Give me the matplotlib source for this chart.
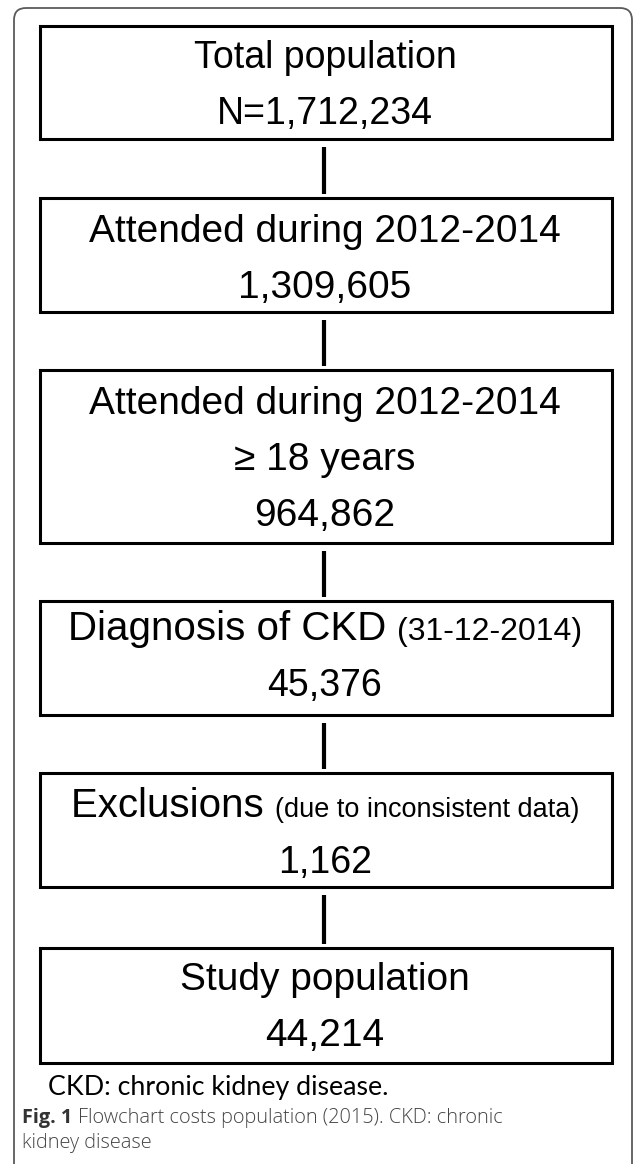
import matplotlib.pyplot as plt
from matplotlib.patches import Rectangle, FancyBboxPatch
from matplotlib.offsetbox import TextArea, HPacker, AnnotationBbox

# Contenido del diagrama de flujo
step_titles = ['Total population', 'Attended during 2012-2014',
               'Attended during 2012-2014', 'Diagnosis of CKD',
               'Exclusions', 'Study population']
step_notes = ['', '', '', '(31-12-2014)', '(due to inconsistent data)', '']
step_extra = ['', '', '\u2265 18 years', '', '', '']
step_counts = ['N=1,712,234', '1,309,605', '964,862', '45,376', '1,162', '44,214']

footnote = 'CKD: chronic kidney disease.'
caption_bold = 'Fig. 1'
caption_text = 'Flowchart costs population (2015). CKD: chronic'
caption_text2 = 'kidney disease'

# Geometría (pixeles)
W, H = 633, 1164
box_left, box_right = 40, 612
box_tops = [26, 198, 370, 601, 773, 948]
box_bottoms = [139, 312, 543, 715, 887, 1063]
first_base = [42, 44, 44, 39, 44, 42]
title_size = [27, 28, 28, 29, 29, 28]
note_size = [0, 0, 0, 23, 19.5, 0]
count_size = [27, 28, 28, 27, 27, 28]
cx = 325

plt.rcParams['font.family'] = ['Liberation Sans', 'DejaVu Sans']

fig = plt.figure(figsize=(W / 100, H / 100), dpi=100)
ax = fig.add_axes([0, 0, 1, 1])
ax.set_xlim(0, W)
ax.set_ylim(H, 0)
ax.axis('off')

# Marco exterior redondeado
frame = FancyBboxPatch((14, 8), 618, 1170, boxstyle='round,pad=0,rounding_size=12',
                       fill=False, edgecolor='#5a5a5a', linewidth=1.3)
ax.add_patch(frame)

for i in range(len(step_titles)):
    top, bot = box_tops[i], box_bottoms[i]
    ax.add_patch(Rectangle((box_left, top), box_right - box_left, bot - top,
                           fill=False, edgecolor='black', linewidth=2.2))
    lines = [(step_titles[i], step_notes[i])]
    if step_extra[i]:
        lines.append((step_extra[i], ''))
    lines.append((step_counts[i], ''))
    base0 = top + first_base[i]
    for j, (txt, note) in enumerate(lines):
        y = base0 + 56 * j
        size = title_size[i] if j == 0 else count_size[i]
        if note:
            parts = [TextArea(txt + ' ', textprops=dict(fontsize=size, color='black')),
                     TextArea(note, textprops=dict(fontsize=note_size[i], color='black'))]
            pack = HPacker(children=parts, align='baseline', pad=0, sep=0)
            ab = AnnotationBbox(pack, (cx, y), xycoords='data', frameon=False,
                                box_alignment=(0.5, 0.22), pad=0)
            ax.add_artist(ab)
        else:
            ax.text(cx, y, txt, fontsize=size, ha='center', va='baseline', color='black')
    # conector
    if i < len(step_titles) - 1:
        ax.plot([cx - 1, cx - 1], [bot + 8, box_tops[i + 1] - 4], color='black',
                linewidth=3, solid_capstyle='butt')

# Nota al pie y leyenda de la figura
cap_font = ['Open Sans', 'DejaVu Sans']
ax.text(48, 1095, footnote, fontsize=19.3, family=['Lato', 'DejaVu Sans'],
        ha='left', va='baseline', color='black')
ax.text(22, 1123, caption_bold, fontsize=14.3, family=cap_font,
        fontweight='bold', ha='left', va='baseline', color='#333333')
ax.text(78, 1123, caption_text, fontsize=14.3, family=cap_font, fontweight='light',
        ha='left', va='baseline', color='#444444')
ax.text(22, 1148, caption_text2, fontsize=14.3, family=cap_font,
        fontweight='light', ha='left', va='baseline', color='#444444')

fig.savefig('out.png', dpi=100)
